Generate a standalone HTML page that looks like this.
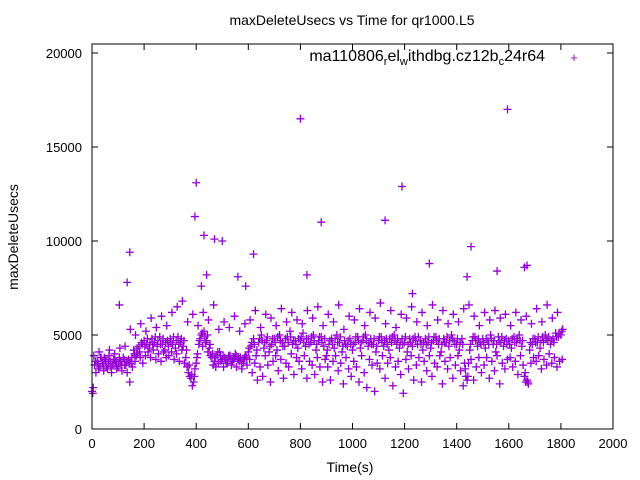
<!DOCTYPE html>
<html><head><meta charset="utf-8"><style>
body{margin:0;background:#fff}
svg{display:block;font-family:"Liberation Sans",sans-serif}
</style></head><body>
<svg id="chart" width="640" height="480" xmlns="http://www.w3.org/2000/svg">
<rect width="640" height="480" fill="#fff"/>
<text x="352" y="25" font-size="14" text-anchor="middle">maxDeleteUsecs vs Time for qr1000.L5</text>
<text x="18" y="237" font-size="14" text-anchor="middle" transform="rotate(-90 18 237)">maxDeleteUsecs</text>
<text x="350" y="472" font-size="14" text-anchor="middle">Time(s)</text>
<g id="axes"></g>
<g id="points"></g>
<rect x="92" y="44" width="521" height="385" fill="none" stroke="#000" stroke-width="1"/>
<text x="545" y="61" font-size="16" text-anchor="end">ma110806<tspan font-size="11" dy="4">r</tspan><tspan dy="-4">el</tspan><tspan font-size="11" dy="4">w</tspan><tspan dy="-4">ithdbg.cz12b</tspan><tspan font-size="11" dy="4">c</tspan><tspan dy="-4">24r64</tspan></text>
<text x="574" y="62" font-size="13" fill="#9400d3" text-anchor="middle">+</text>
</svg>
<script>
const xTicks=[0,200,400,600,800,1000,1200,1400,1600,1800,2000];
const yTicks=[0,5000,10000,15000,20000];
const bandA=[2000,3400,3600,3300,3500,3700,3200,3600,3400,3500,
3300,3600,3800,3400,3700,3500,4200,3900,4400,4600,
4700,4500,4300,4800,4600,4400,4900,4500,4200,4700,
4800,4500,4300,4900,4600,4400,3800,3000,2700,2500,
3500,4500,5000,5200,4700,4300,3800,3600,3900,4100,
3700,3800,3500,3900,3600,4000,3700,3800,3500,3900,
4100,4400,4800,3900,4600,5000,4300,4700,4100,4500,
4800,4200,5000,4600,4400,4900,5200,4500,4700,4300,
4700,5100,4400,4800,4600,5000,4200,4700,4900,4400,
3900,4500,4800,4300,5000,4600,4100,4700,4400,4800,
4200,4600,4900,4300,4700,5000,4400,4800,4500,4100,
4700,4900,4400,4800,4200,4600,5000,4500,4300,4800,
4600,4100,4800,4400,4900,4500,4700,4200,4800,4600,
4300,4700,4900,4500,4100,4800,4600,4400,5000,4700,
4500,4200,4800,3500,2600,4200,4700,4900,4400,4600,
4800,4300,4700,5000,4500,4100,4900,4600,4400,4800,
4700,4300,4900,4600,5000,4400,2800,2600,4200,4500,
4800,4600,4300,4900,5000,4700,4500,4800,5100,4900,5000];
const bandB=[2200,3000,3200,3800,3100,3300,3900,3000,3700,3200,
3800,3100,3400,3000,2500,3300,3600,4000,3800,3500,
3900,4100,3800,4200,3700,4000,3600,4100,3800,3900,
4100,3700,4000,3600,4200,3500,3300,2800,2300,3200,
4000,4800,4400,4600,4100,3900,3400,3300,3500,3600,
3300,3500,3900,3400,3700,3300,3600,3200,3800,3400,
3700,3000,3500,2600,3300,2800,3900,3400,2500,3600,
3900,3100,3700,2700,3500,3300,4000,2900,3800,3600,
3200,3900,2700,3600,3400,2900,3800,3300,2500,3700,
3300,2600,3600,3900,3100,3500,2400,3800,3200,2800,
3600,3300,2500,3900,3000,2200,3700,3400,2000,3500,
3200,3900,2700,3500,3800,2300,3300,3600,2900,1900,
3700,3200,3900,2600,3400,3800,2500,3600,3100,3900,
2800,3500,3300,3900,2400,3600,3200,3800,2700,3400,
3900,3100,2300,2800,3500,3700,2600,3300,3800,3000,
3400,3800,2700,3600,3100,3900,2400,3500,3200,3700,
3800,3300,3600,2900,3900,3400,2500,2400,3500,3800,
3600,3900,3200,3700,3400,4000,3500,3800,3300,3600,3700];
const bandD=[1900,3600,3500,3800,3400,3600,3500,3300,3700,3600,
3500,3400,3700,3600,3500,3800,4000,4300,4100,4500,
4400,4800,4600,4500,4900,4700,4500,4800,4600,4400,
4600,4900,4700,4500,4800,4700,4200,3400,2900,2800,
3800,4700,5100,4900,5000,4500,4000,3800,4100,3900,
3900,3700,3800,3700,3800,3900,3800,3600,3700,3800,
4300,4600,4500,4200,4800,4700,4600,4900,4400,4800,
4600,4900,4700,4400,4800,4600,4900,4700,4500,4800,
4900,4600,4800,4500,4900,4700,4500,4900,4600,4800,
4200,4700,4500,4800,4600,4900,4400,4500,4700,4500,
4500,4900,4700,4600,4900,4700,4600,4500,4800,4400,
4900,4600,4700,4500,4800,4900,4700,4800,4600,4500,
4900,4500,4600,4800,4700,4900,4500,4600,4500,4900,
4600,4900,4700,4800,4500,4600,4900,4700,4800,4500,
4800,4600,4500,3200,2800,4500,4900,4700,4800,4500,
4600,4800,4500,4800,4700,4500,4700,4900,4700,4500,
4500,4800,4600,4800,4700,4700,3000,2500,4600,4800,
4600,4900,4700,4600,4800,4900,4700,4600,4900,5100,5200];
const bandC=[3900,4100,3800,4200,4000,4300,4400,5300,5000,5600,
5200,5900,5400,6000,5500,6200,6500,6800,5700,6100,
5500,6200,5800,6600,5300,5700,5400,6000,5200,5600,
5800,6300,5400,6100,5900,5500,6400,5700,6200,5800,
5600,6300,5900,6500,5500,6100,5700,6600,5300,6000,
5800,6400,5500,6200,5900,6700,5600,6300,5400,6100,
5900,6500,5700,6200,5500,6600,5800,6300,5600,6100,
5700,6400,6600,6000,5500,6200,5800,6300,5900,6100,
5500,6200,5800,6000,5600,6400,5700,6600,5900,6200,5300];
const outX=[105,135,145,395,400,420,430,440,470,500,560,590,620,800,825,880,1125,1190,1230,1295,1440,1455,1555,1595,1660,1670];
const outY=[6600,7800,9400,11300,13100,7600,10300,8200,10100,10000,8100,7600,9300,16500,8200,11000,11100,12900,7200,8800,8100,9700,8400,17000,8600,8700];

const NS="http://www.w3.org/2000/svg";
const sx=v=>92+v*521/2000, sy=v=>429-v*376/20000;
const ax=document.getElementById('axes'), pg=document.getElementById('points');
function mk(tag,attrs,parent){const e=document.createElementNS(NS,tag);for(const k in attrs)e.setAttribute(k,attrs[k]);parent.appendChild(e);return e;}
xTicks.forEach(t=>{
  const x=sx(t);
  const l=mk('path',{d:`M${x},429v-6M${x},44v6`,stroke:'#000'},ax);
  
  
  const tx=mk('text',{x:x,y:448,'font-size':13,'text-anchor':'middle'},ax);tx.textContent=t;
  
  
});
yTicks.forEach(t=>{
  const y=sy(t);
  const l=mk('path',{d:`M92,${y}h6M613,${y}h-6`,stroke:'#000'},ax);
  
  
  const tx=mk('text',{x:82,y:y+5,'font-size':13,'text-anchor':'end'},ax);tx.textContent=t;
  
  
});
function plus(xv,yv){
  const x=sx(xv),y=sy(yv);
  const p=mk('path',{d:`M${x-4},${y}h8M${x},${y-4}v8`,stroke:'#9400d3','stroke-width':1.3},pg);
  
  
}
bandA.forEach((v,i)=>plus(i*10,v));
bandB.forEach((v,i)=>plus(i*10+5,v));
bandD.forEach((v,i)=>plus(i*10+3,v));
bandC.forEach((v,i)=>plus(i*20+7,v));
outX.forEach((v,i)=>plus(v,outY[i]));
</script>
</body></html>
